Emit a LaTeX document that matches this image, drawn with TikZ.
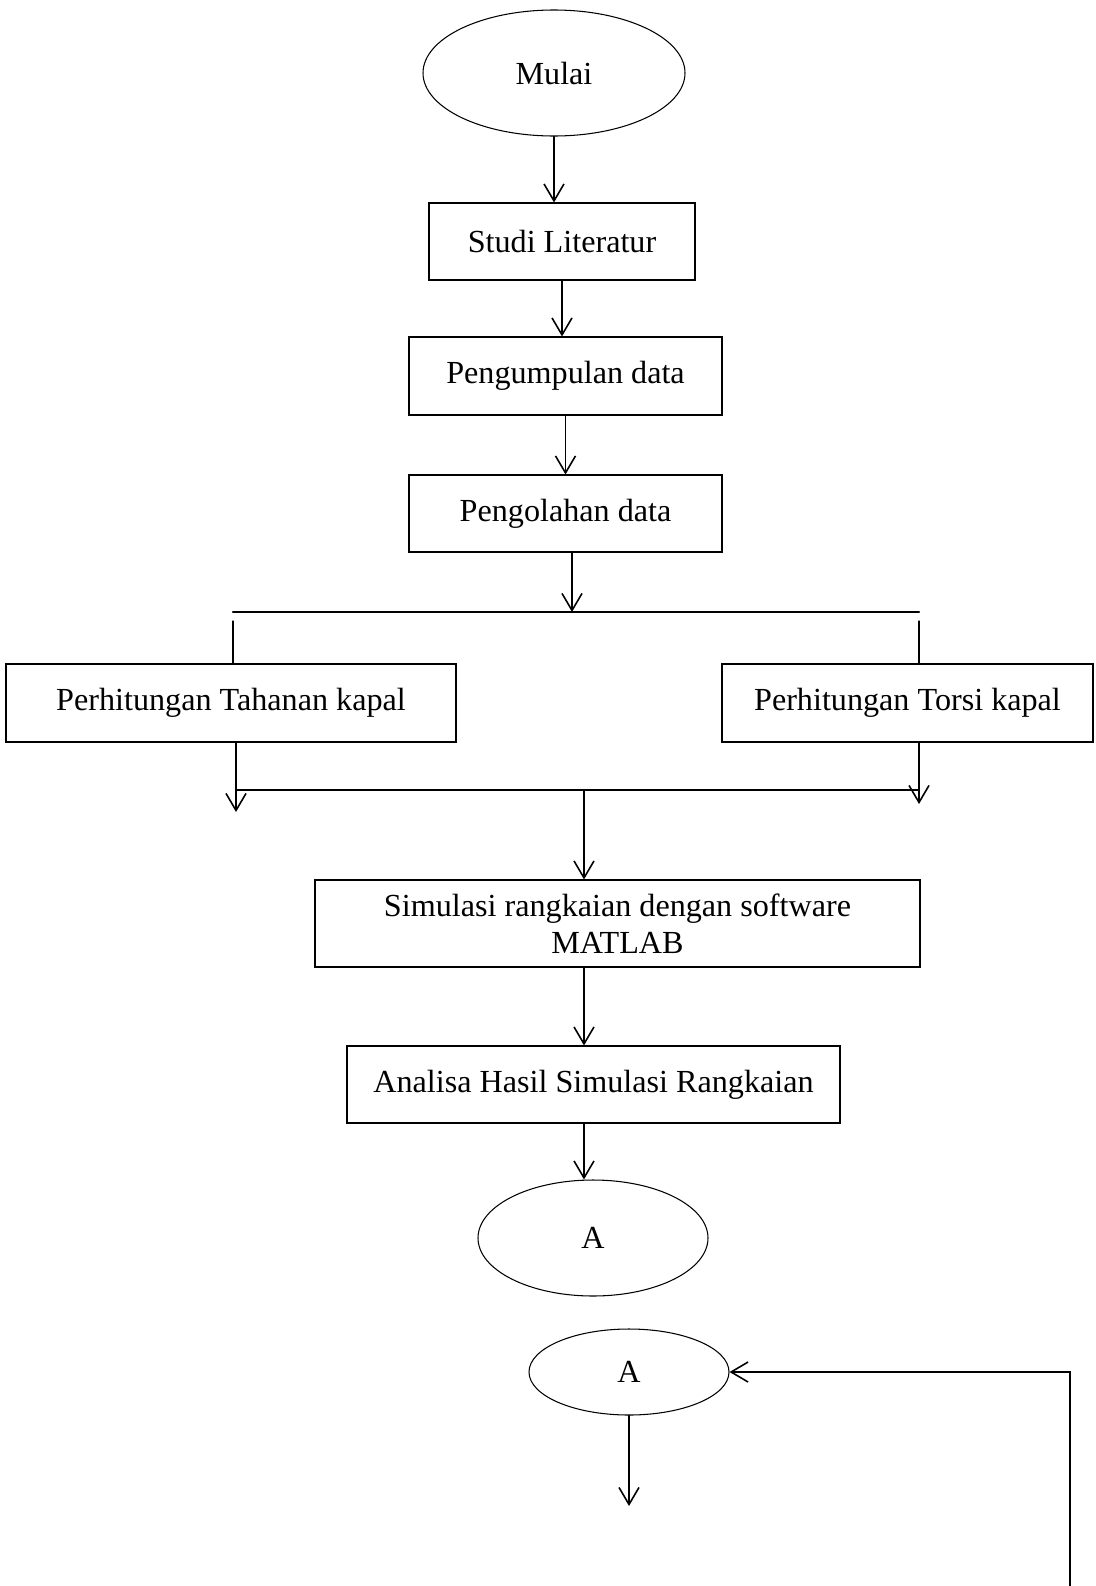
\documentclass[tikz,border=0pt]{standalone}
\usepackage{fontspec}
\setmainfont{Liberation Serif}
\usetikzlibrary{arrows.meta,shapes.geometric,calc}

\begin{document}
\begin{tikzpicture}[>={Straight Barb[length=3.4mm,width=4mm]},font=\fontsize{18.3}{21.3}\selectfont,line cap=round,
  box/.style={draw,line width=0.6pt,inner sep=0pt,align=center},
  oval/.style={draw,ellipse,line width=0.6pt,inner sep=0pt},
  flow/.style={->,line width=0.9pt},
  bar/.style={line width=1.2pt}]
\useasboundingbox (0,0) rectangle (21.9,-31.72);
% nodes
\node[oval,minimum width=5.24cm,minimum height=2.52cm] (mulai) at (11.08,-1.46) {Mulai};
\node[box,minimum width=5.32cm,minimum height=1.54cm] (studi) at (11.24,-4.83) {Studi Literatur};
\node[box,minimum width=6.26cm,minimum height=1.56cm] (kumpul) at (11.31,-7.52) {Pengumpulan data};
\node[box,minimum width=6.26cm,minimum height=1.54cm] (olah) at (11.31,-10.27) {Pengolahan data};
\node[box,minimum width=9.0cm,minimum height=1.56cm] (tahanan) at (4.62,-14.06) {Perhitungan Tahanan kapal};
\node[box,minimum width=7.42cm,minimum height=1.56cm] (torsi) at (18.15,-14.06) {Perhitungan Torsi kapal};
\node[box,minimum width=12.1cm,minimum height=1.74cm] (simulasi) at (12.35,-18.47) {Simulasi rangkaian dengan software\\MATLAB};
\node[box,minimum width=9.86cm,minimum height=1.54cm] (analisa) at (11.87,-21.69) {Analisa Hasil Simulasi Rangkaian};
\node[oval,minimum width=4.6cm,minimum height=2.32cm] (a1) at (11.86,-24.76) {A};
\node[oval,minimum width=4.0cm,minimum height=1.72cm] (a2) at (12.58,-27.44) {A};
% split and join points
\coordinate (splitL) at (4.66,-12.24);
\coordinate (splitR) at (18.38,-12.24);
\coordinate (split) at (11.44,-12.24);
\coordinate (joinL) at (4.72,-15.8);
\coordinate (joinR) at (18.38,-15.8);
\coordinate (join) at (11.68,-15.8);
\coordinate (endL) at (4.72,-16.24);
\coordinate (endR) at (18.38,-16.08);
\coordinate (out) at (12.58,-30.12);
\coordinate (back) at (21.4,-31.72);
% connectors
\draw[flow] (mulai.south) -- (mulai.south |- studi.north);
\draw[flow] (studi.south) -- (studi.south |- kumpul.north);
\draw[flow] (kumpul.south) -- (kumpul.south |- olah.north);
\draw[flow] (olah.south -| split) -- (split);
\draw[bar] (splitL) -- (splitR);
\draw[line width=0.7pt] ($(splitL)+(0,-0.18)$) -- (splitL |- tahanan.north);
\draw[line width=0.7pt] ($(splitR)+(0,-0.18)$) -- (splitR |- torsi.north);
\draw[flow] (tahanan.south -| endL) -- (endL);
\draw[flow] (torsi.south -| endR) -- (endR);
\draw[bar] (joinL) -- (joinR);
\draw[flow] (join) -- (join |- simulasi.north);
\draw[flow] (simulasi.south -| join) -- (join |- analisa.north);
\draw[flow] (analisa.south -| join) -- (join |- a1.north);
\draw[flow] (a2.south) -- (out);
\draw[flow] (back) |- (a2.east);
\end{tikzpicture}
\end{document}
